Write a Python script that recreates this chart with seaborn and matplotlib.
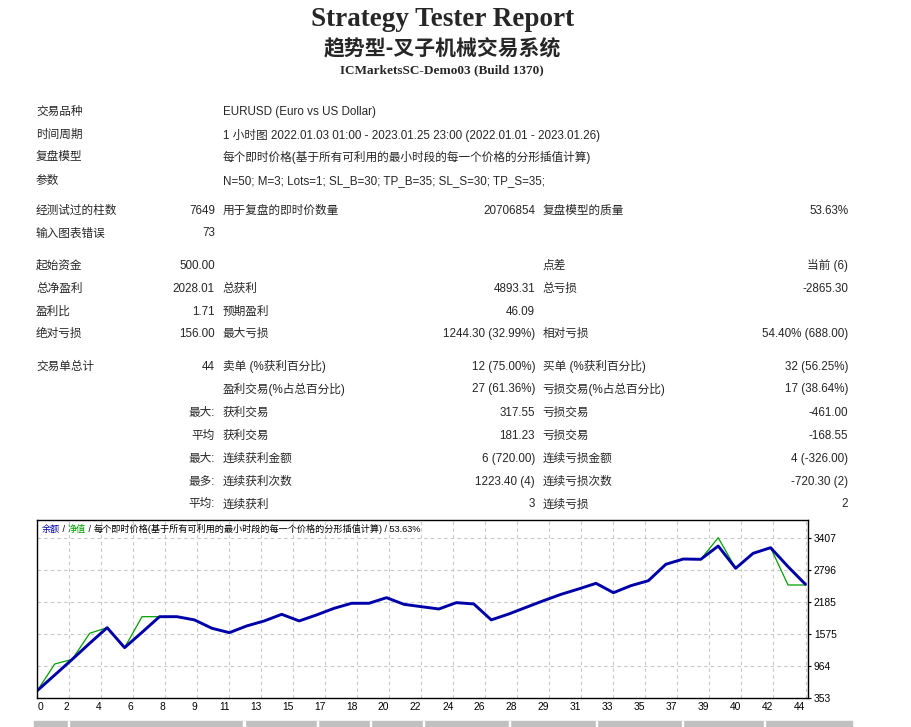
import matplotlib
matplotlib.use("Agg")
import matplotlib.pyplot as plt
import seaborn as sns
import pandas as pd
from matplotlib.patches import Rectangle

# balance / equity after each trade
trades = list(range(45))
balance = [500, 798, 1097, 1403, 1701, 1320, 1613, 1911, 1911, 1850,
           1690, 1606, 1735, 1830, 1956, 1830, 1945, 2071, 2167, 2167,
           2274, 2147, 2102, 2058, 2179, 2154, 1850, 1962, 2090, 2217,
           2338, 2440, 2548, 2369, 2503, 2598, 2911, 3012, 3006, 3260,
           2835, 3121, 3228, 2866, 2528]
equity = [500, 1008, 1097, 1594, 1701, 1320, 1911, 1911, 1911, 1850,
          1690, 1606, 1735, 1830, 1956, 1830, 1945, 2071, 2167, 2167,
          2274, 2147, 2102, 2058, 2179, 2154, 1850, 1962, 2090, 2217,
          2338, 2440, 2548, 2369, 2503, 2598, 2911, 3012, 3006, 3419,
          2835, 3121, 3228, 2516, 2516]
x_tick_labels = ["0", "2", "4", "6", "8", "9", "11", "13", "15", "17", "18", "20", "22",
                 "24", "26", "28", "29", "31", "33", "35", "37", "39", "40", "42", "44"]
y_ticks = [353, 964, 1575, 2185, 2796, 3407]

info_rows = [
    (111.7, "交易品种", "EURUSD (Euro vs US Dollar)"),
    (135.0, "时间周期", "1 小时图 2022.01.03 01:00 - 2023.01.25 23:00 (2022.01.01 - 2023.01.26)"),
    (157.3, "复盘模型", "每个即时价格(基于所有可利用的最小时段的每一个价格的分形插值计算)"),
    (181.0, "参数", "N=50; M=3; Lots=1; SL_B=30; TP_B=35; SL_S=30; TP_S=35;"),
]

stats_rows = [
    (210.7, "经测试过的柱数", "7649", "用于复盘的即时价数量", "20706854", "复盘模型的质量", "53.63%"),
    (233.3, "输入图表错误", "73", "", "", "", ""),
    (265.7, "起始资金", "500.00", "", "", "点差", "当前 (6)"),
    (289.0, "总净盈利", "2028.01", "总获利", "4893.31", "总亏损", "-2865.30"),
    (311.7, "盈利比", "1.71", "预期盈利", "46.09", "", ""),
    (334.3, "绝对亏损", "156.00", "最大亏损", "1244.30 (32.99%)", "相对亏损", "54.40% (688.00)"),
    (366.7, "交易单总计", "44", "卖单 (%获利百分比)", "12 (75.00%)", "买单 (%获利百分比)", "32 (56.25%)"),
    (389.3, "", "", "盈利交易(%占总百分比)", "27 (61.36%)", "亏损交易(%占总百分比)", "17 (38.64%)"),
    (412.7, "", "最大:", "获利交易", "317.55", "亏损交易", "-461.00"),
    (435.7, "", "平均", "获利交易", "181.23", "亏损交易", "-168.55"),
    (458.7, "", "最大:", "连续获利金额", "6 (720.00)", "连续亏损金额", "4 (-326.00)"),
    (481.7, "", "最多:", "连续获利次数", "1223.40 (4)", "连续亏损次数", "-720.30 (2)"),
    (504.3, "", "平均:", "连续获利", "3", "连续亏损", "2"),
]

sns.set_style("white")
plt.rcParams["font.family"] = ["Liberation Sans", "Noto Sans CJK SC"]

W, H = 912, 727
fig = plt.figure(figsize=(W / 100, H / 100), dpi=100)


def put(x, y, s, ha="left", size=8.4, **kw):
    fig.text(x / W, 1 - y / H, s, ha=ha, va="center", fontsize=size, **kw)


# header
put(443, 20, "Strategy Tester Report", ha="center", size=19.5,
    family=["Liberation Serif"], weight="bold")
put(442, 49, "趋势型-叉子机械交易系统", ha="center", size=15,
    family=["Noto Sans CJK SC"], weight="bold")
put(442, 70, "ICMarketsSC-Demo03 (Build 1370)", ha="center", size=9.5,
    family=["Liberation Serif"], weight="bold")

for y, label, value in info_rows:
    put(36, y, label)
    put(222.7, y, value)

cols = [(36, "left"), (215, "right"), (222.7, "left"), (535, "right"), (542.7, "left"), (848.3, "right")]
for row in stats_rows:
    y = row[0]
    for (x, ha), s in zip(cols, row[1:]):
        if s:
            put(x, y, s, ha=ha)

# graph
left, right, top, bottom = 37.3, 808.3, 520.3, 698.3
ax = fig.add_axes([left / W, 1 - bottom / H, (right - left) / W, (bottom - top) / H])
df = pd.DataFrame({"trade": trades, "balance": balance, "equity": equity})
sns.lineplot(data=df, x="trade", y="equity", color="#00A000", lw=0.9, ax=ax)
sns.lineplot(data=df, x="trade", y="balance", color="#0000A8", lw=2.1, ax=ax)

ax.set_xlim(0, 44.16)
ax.set_ylim(353, 3751)
xt = [k * 44 / 24 for k in range(25)]
ax.set_xticks(xt)
ax.set_xticklabels(x_tick_labels)
for i, t in enumerate(ax.get_xticklabels()):
    t.set_ha("left" if i == 0 else "right")
ax.yaxis.tick_right()
ax.set_yticks(y_ticks)
ax.set_xlabel("")
ax.set_ylabel("")
ax.tick_params(axis="both", labelsize=7.4, length=2.5, width=0.8, pad=1.5, colors="black")
ax.tick_params(axis="x", length=0, pad=3)
ax.grid(True, color="#C8C8C8", ls=(0, (3, 3)), lw=0.8)
for sp in ax.spines.values():
    sp.set_color("black")
    sp.set_linewidth(1.0)

# caption inside the graph, coloured pieces
pieces = [("余额", "#0000A8"), (" / ", "black"), ("净值", "#00A000"), (" / ", "black"),
          ("每个即时价格(基于所有可利用的最小时段的每一个价格的分形插值计算)", "black"),
          (" / 53.63%", "black")]
prev = ax.text((41.7 - left) / (right - left), 1 - (529 - top) / (bottom - top), pieces[0][0],
               transform=ax.transAxes, ha="left", va="center", fontsize=6.6, color=pieces[0][1])
for s, c in pieces[1:]:
    prev = ax.annotate(s, xy=(1, 0.5), xycoords=prev, ha="left", va="center",
                       fontsize=6.6, color=c)

# grey header strip of the next table (cut off)
fig.patches.append(Rectangle((34 / W, 0), (852 - 34) / W, 6 / H, transform=fig.transFigure,
                             color="#C0C0C0", zorder=0))
for gx in [68.3, 243.3, 317, 370.3, 423.3, 509, 595.7, 681.7, 764.3]:
    fig.patches.append(Rectangle((gx / W, 0), 1.2 / W, 6 / H, transform=fig.transFigure,
                                 color="white", zorder=1))

fig.savefig("out.png", dpi=100)
plt.close(fig)
